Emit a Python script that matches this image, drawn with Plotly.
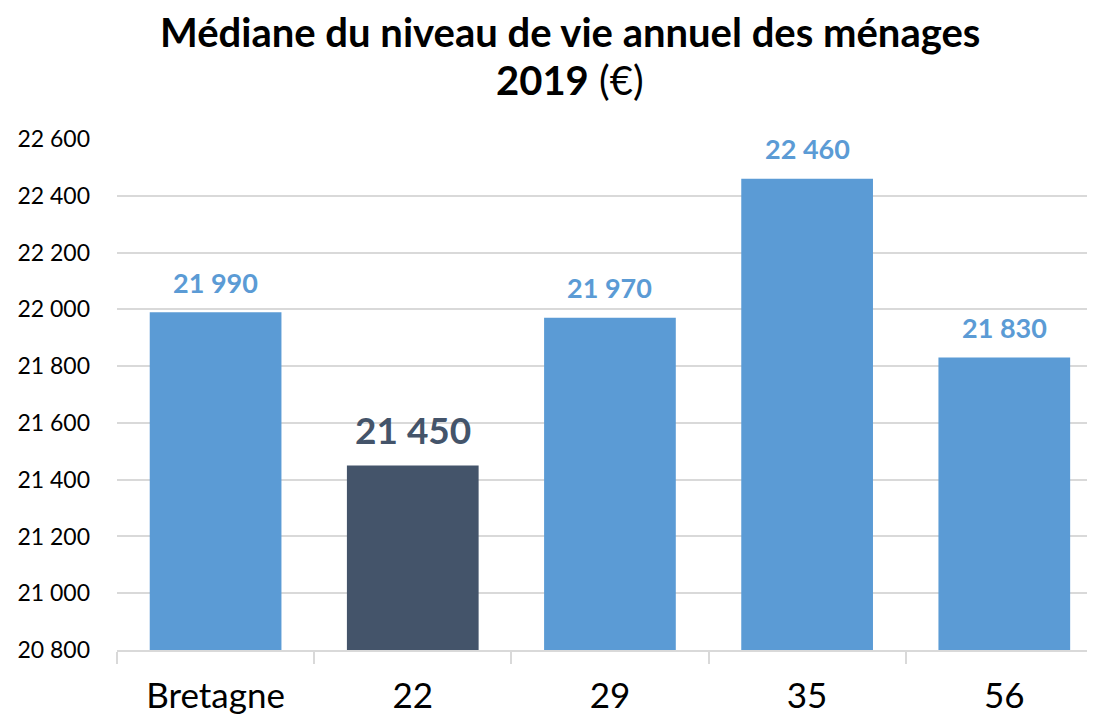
import plotly.graph_objects as go

categories = ["Bretagne", "22", "29", "35", "56"]
values = [21990, 21450, 21970, 22460, 21830]
labels = ["21 990", "21 450", "21 970", "22 460", "21 830"]
bar_colors = ["#5B9BD5", "#44546A", "#5B9BD5", "#5B9BD5", "#5B9BD5"]
label_colors = ["#5B9BD5", "#44546A", "#5B9BD5", "#5B9BD5", "#5B9BD5"]
label_sizes = [27, 37, 27, 27, 27]
label_shift = [30, 36, 30, 30, 30]
y_ticks = [20800, 21000, 21200, 21400, 21600, 21800, 22000, 22200, 22400, 22600]
y_ticktext = ["20 800", "21 000", "21 200", "21 400", "21 600", "21 800", "22 000", "22 200", "22 400", "22 600"]

FONT = "Lato"

fig = go.Figure()
fig.add_trace(go.Bar(
    x=categories,
    y=values,
    marker=dict(color=bar_colors, line=dict(width=0)),
    width=0.668,
    hoverinfo="skip",
))

for i, (v, t, c, s, sh) in enumerate(zip(values, labels, label_colors, label_sizes, label_shift)):
    fig.add_annotation(
        x=i, y=v, xref="x", yref="y", text=f"<b>{t}</b>",
        showarrow=False, yanchor="middle", yshift=sh,
        font=dict(family=FONT, size=s, color=c),
    )

W, H = 1087, 707
ML, MT, MB, MR = 109, 131, 63, 0
ph = H - MT - MB
pw = W - ML - MR

def py(y_page):
    return 1 + (MT - (y_page - 8)) / ph

def px(x_page):
    return ((x_page - 8) - ML) / pw

# Title (two lines)
fig.add_annotation(
    x=px(570), y=py(32), xref="paper", yref="paper", yanchor="middle", xanchor="center",
    text="<b>Médiane du niveau de vie annuel des ménages</b>", showarrow=False,
    font=dict(family=FONT, size=40, color="black"),
)
fig.add_annotation(
    x=px(570), y=py(80), xref="paper", yref="paper", yanchor="middle", xanchor="center",
    text="<b>2019</b> (€)", showarrow=False,
    font=dict(family=FONT, size=40, color="black"),
)

fig.update_layout(
    width=W, height=H,
    margin=dict(l=ML, r=MR, t=MT, b=MB, pad=0),
    paper_bgcolor="white", plot_bgcolor="white",
    showlegend=False,
    font=dict(family=FONT, color="black"),
    xaxis=dict(
        type="category",
        range=[-0.5, 4.46],
        tickson="boundaries",
        ticks="outside", ticklen=12, tickcolor="#D9D9D9", tickwidth=1.5,
        showline=True, linecolor="#D9D9D9", linewidth=1.5,
        showgrid=False, zeroline=False,
        ticklabelstandoff=14,
        tickfont=dict(family=FONT, size=35, color="black"),
    ),
    yaxis=dict(
        range=[20800, 22600],
        tickmode="array", tickvals=y_ticks, ticktext=y_ticktext,
        showgrid=True, gridcolor="#D9D9D9", gridwidth=1.5,
        zeroline=False, showline=False,
        ticks="", ticklabelstandoff=26,
        tickfont=dict(family=FONT, size=23, color="black"),
    ),
)

fig.write_html("out.html")
